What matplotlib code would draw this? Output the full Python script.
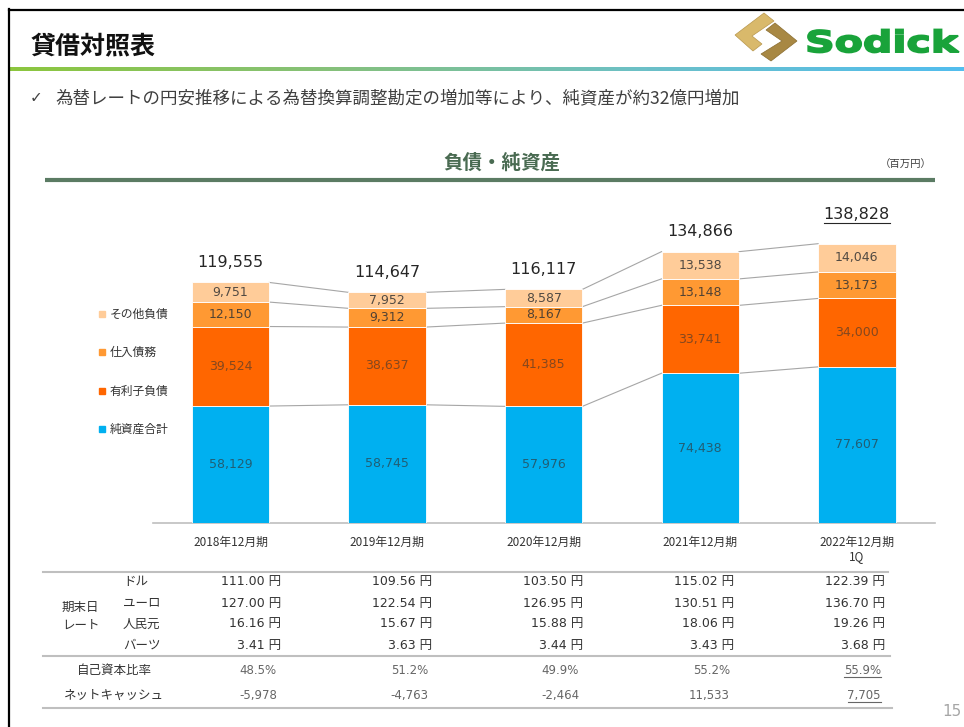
import matplotlib
matplotlib.use("Agg")
import matplotlib.pyplot as plt
import numpy as np
from matplotlib.colors import LinearSegmentedColormap
from matplotlib.textpath import TextPath
from matplotlib.patches import PathPatch, Polygon
from matplotlib.font_manager import FontProperties
from matplotlib.transforms import Affine2D
from matplotlib.lines import Line2D

JP = ['Noto Sans CJK JP', 'DejaVu Sans']
NUM = ['DejaVu Sans', 'Noto Sans CJK JP']
plt.rcParams['font.family'] = JP

# chart data (百万円)
periods = ['2018年12月期', '2019年12月期', '2020年12月期', '2021年12月期', '2022年12月期\n1Q']
net_assets = [58129, 58745, 57976, 74438, 77607]
interest_debt = [39524, 38637, 41385, 33741, 34000]
trade_payables = [12150, 9312, 8167, 13148, 13173]
other_liab = [9751, 7952, 8587, 13538, 14046]
totals = [119555, 114647, 116117, 134866, 138828]
series_names = ['純資産合計', '有利子負債', '仕入債務', 'その他負債']

# table data
rate_names = ['ドル', 'ユーロ', '人民元', 'バーツ']
usd = [111.00, 109.56, 103.50, 115.02, 122.39]
eur = [127.00, 122.54, 126.95, 130.51, 136.70]
cny = [16.16, 15.67, 15.88, 18.06, 19.26]
thb = [3.41, 3.63, 3.44, 3.43, 3.68]
equity_ratio = [48.5, 51.2, 49.9, 55.2, 55.9]
net_cash = [-5978, -4763, -2464, 11533, 7705]

W, H = 964, 727
fig = plt.figure(figsize=(W / 100, H / 100), dpi=100)

# background axes in pixel units (y pointing down) for the slide decoration
bg = fig.add_axes([0, 0, 1, 1])
bg.axis('off')


def rect(x0, y0, x1, y1):
    return [x0 / W, 1 - y1 / H, (x1 - x0) / W, (y1 - y0) / H]


# frame
bg.plot([9, 9], [9, H], color='black', lw=1.6)
bg.plot([9, W], [9.5, 9.5], color='black', lw=1.6)

# gradient rule under the header
cmap = LinearSegmentedColormap.from_list('hdr', ['#8cc63e', '#86c17a', '#6cc0c8', '#52bdee'])
bg.imshow(np.linspace(0, 1, 256)[None, :], extent=[10, W, 71, 67], cmap=cmap, aspect='auto')

bg.text(31, 46, '貸借対照表', fontsize=18, weight='bold', va='center', ha='left', color='#111111')

# logo
bg.add_patch(Polygon([(764, 13), (774, 21), (752, 36), (762, 44), (753, 51), (735, 35)],
                     closed=True, facecolor='#d9b96b', edgecolor='#b8974d', lw=0.5))
bg.add_patch(Polygon([(766, 30), (775, 23), (797, 41), (771, 61), (761, 54), (782, 41)],
                     closed=True, facecolor='#a88843', edgecolor='#8a6d30', lw=0.5))
tp = TextPath((0, 0), 'Sodick', size=1, prop=FontProperties(family='DejaVu Sans', weight='bold'))
ext = tp.get_extents()
tr = Affine2D().translate(-ext.x0, -ext.y0).scale(151 / ext.width, -23 / ext.height).translate(808, 52.5)
bg.add_patch(PathPatch(tr.transform_path(tp), facecolor='#19a33a', edgecolor='#19a33a', lw=1.3))

bg.text(30, 98, '✓', fontsize=11, va='center', ha='left', color='#404040', family=['DejaVu Sans'])
bg.text(55, 98, '為替レートの円安推移による為替換算調整勘定の増加等により、純資産が約32億円増加',
        fontsize=12.6, va='center', ha='left', color='#404040')

# chart heading
bg.text(502, 163, '負債・純資産', fontsize=14, weight='bold', ha='center', va='center', color='#4a6b52')
bg.text(932, 165, '（百万円）', fontsize=7.5, ha='right', va='center', color='#404040')
bg.plot([45, 935], [180, 180], color='#5b7b63', lw=3, solid_capstyle='butt')

# stacked bars
ax = fig.add_axes(rect(153, 190, 935, 523))
ax.patch.set_alpha(0)
x = np.arange(len(periods))
bw = 0.495
ax.set_xlim(-0.495, 4.499)
ax.set_ylim(0, 333 / 2.012 * 1000)

stack = [net_assets, interest_debt, trade_payables, other_liab]
colors = ['#00B0F0', '#FF6600', '#FF9933', '#FFCC99']
label_alpha = [0.65, 0.6, 0.85, 0.85]
bottom = np.zeros(len(x))
bounds = []
seg_texts = []
for vals, c, a in zip(stack, colors, label_alpha):
    vals = np.array(vals)
    ax.bar(x, vals, width=bw, bottom=bottom, color=c, edgecolor='white', linewidth=0.6, zorder=3)
    row = []
    for xi, b, v in zip(x, bottom, vals):
        row.append(ax.text(xi, b + v / 2, f'{v:,}', ha='center', va='center', fontsize=9,
                           family=NUM, color='#333333', alpha=a, zorder=4))
    seg_texts.append(row)
    bottom = bottom + vals
    bounds.append(bottom.copy())

# connector lines between bars
for b in bounds:
    for i in range(len(x) - 1):
        ax.plot([x[i] + bw / 2, x[i + 1] - bw / 2], [b[i], b[i + 1]], color='#a6a6a6', lw=0.8, zorder=2)

total_texts = []
for i, t in enumerate(totals):
    off = 21 if i == len(totals) - 1 else 14.5
    total_texts.append(ax.annotate(f'{t:,}', (x[i], t), xytext=(0, off), textcoords='offset points',
                                   ha='center', va='center', fontsize=11.5, color='#262626', family=NUM))

ax.set_xticks(x, periods)
ax.tick_params(axis='x', length=0, pad=9, labelsize=8.5, labelcolor='#333333')
ax.set_yticks([])
for s in ['top', 'left', 'right']:
    ax.spines[s].set_visible(False)
ax.spines['bottom'].set_color('#bfbfbf')
ax.spines['bottom'].set_linewidth(1.2)

handles = [Line2D([], [], marker='s', ls='', color=c, markersize=5) for c in colors][::-1]
fig.legend(handles, series_names[::-1], loc='upper left', bbox_to_anchor=(92 / W, 1 - 302 / H),
           frameon=False, handlelength=0.7, handletextpad=0.3, labelspacing=2.15, fontsize=8.5,
           borderpad=0, labelcolor='#333333')

# table
rate_rows = [usd, eur, cny, thb]
rate_y = [581, 603, 624, 645]
yen_right = [281 + 151 * i for i in range(len(periods))]
bg.plot([43, 888], [572, 572], color='#bfbfbf', lw=1.5)
bg.plot([43, 890], [656, 656], color='#bfbfbf', lw=1.5)
bg.plot([43, 892], [708, 708], color='#bfbfbf', lw=1.5)
bg.text(62, 607, '期末日', fontsize=9, ha='left', va='center', color='#333333')
bg.text(62, 625, 'レート', fontsize=9, ha='left', va='center', color='#333333')
for name, vals, yy in zip(rate_names, rate_rows, rate_y):
    bg.text(123, yy, name, fontsize=9, ha='left', va='center', color='#333333')
    for xr, v in zip(yen_right, vals):
        bg.text(xr, yy, f'{v:.2f} 円', fontsize=9, ha='right', va='center', color='#333333', family=NUM)

bg.text(114, 670, '自己資本比率', fontsize=9, ha='center', va='center', color='#333333')
bg.text(114, 695, 'ネットキャッシュ', fontsize=9, ha='center', va='center', color='#333333')
pct_texts = []
for xr, p, n in zip(yen_right, equity_ratio, net_cash):
    pct_texts.append(bg.text(xr - 4, 670, f'{p:.1f}%', fontsize=8.5, ha='right', va='center',
                             color='#666666', family=NUM))
    pct_texts.append(bg.text(xr - 4, 695, f'{n:,}', fontsize=8.5, ha='right', va='center',
                             color='#666666', family=NUM))

bg.text(952, 712, '15', fontsize=11, ha='center', va='center', color='#a6a6a6', family=NUM)

bg.set_xlim(0, W)
bg.set_ylim(H, 0)

# underline the latest-quarter figures
fig.canvas.draw()
renderer = fig.canvas.get_renderer()
for t in [total_texts[-1], seg_texts[3][-1], pct_texts[-2], pct_texts[-1]]:
    bb = t.get_window_extent(renderer)
    yy = H - bb.y0 + 0.5
    bg.plot([bb.x0, bb.x1], [yy, yy], color=t.get_color(), lw=0.8)
bg.set_xlim(0, W)
bg.set_ylim(H, 0)

fig.savefig('out.png', dpi=100)
